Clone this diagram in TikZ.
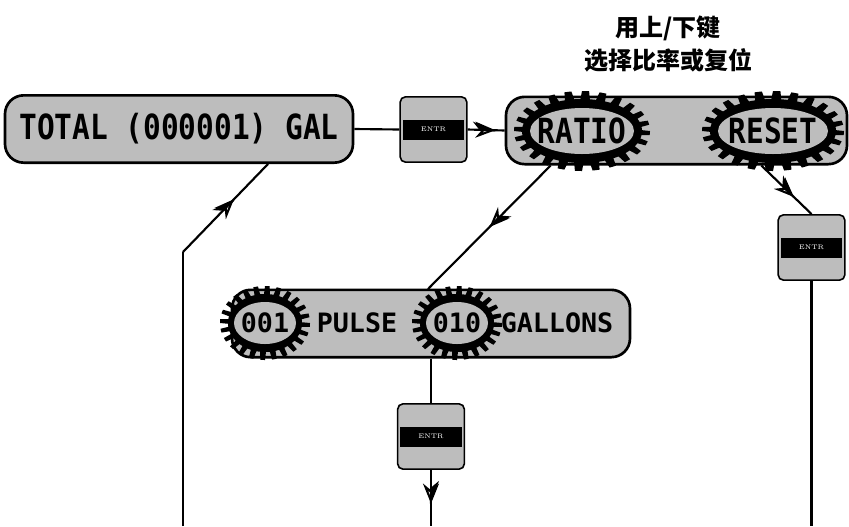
\documentclass[tikz,border=0pt]{standalone}
\usepackage{fontspec}
\usetikzlibrary{positioning,calc,arrows.meta,decorations.markings}
\newfontfamily\cjk{Noto Sans CJK SC}
\newfontfamily\lcd{DejaVu Sans Mono}[FakeStretch=0.85]
\newfontfamily\lcdsmall{DejaVu Sans Mono}
\definecolor{panelgray}{gray}{0.74}
\setlength{\fboxsep}{2pt}

% toothed ring behind a display field: centre x, centre y, body radii, inner radii
\newcommand{\gearteeth}[6]{%
  \fill[black] plot[domain=0:360, samples=241, variable=\t]
    ({#1+(#3+(mod(\t,15)<7 ? 8 : 0))*cos(\t)}, {#2+(#4+(mod(\t,15)<7 ? 8 : 0))*sin(\t)}) -- cycle;
  \fill[panelgray] (#1,#2) ellipse [x radius=#5, y radius=#6];
}
\newcommand{\entrkey}{\colorbox{black}{\parbox[c][11pt][c]{42pt}{\centering\color{white}\fontsize{5}{5}\selectfont ENTR}}}

\begin{document}
\begin{tikzpicture}[
    x=0.75pt, y=-0.75pt,
    panel/.style={
        draw,
        line width=2pt,
        fill=panelgray,
        rounded corners=14pt,
        minimum height=50.5pt,
        inner sep=0pt
    },
    entrbox/.style={
        draw,
        line width=1.2pt,
        fill=panelgray,
        rounded corners=4pt,
        minimum width=50pt,
        minimum height=49pt,
        inner sep=0pt
    },
    bigtext/.style={inner sep=0pt, font=\lcd\bfseries\fontsize{26}{26}\selectfont},
    smalltext/.style={inner sep=0pt, font=\lcdsmall\bfseries\fontsize{20}{20}\selectfont},
    wire/.style={line width=1.6pt},
    arrowat/.style={
        decoration={markings, mark=at position #1 with {
            \arrow{Stealth[open,length=15pt,width=12pt,inset=5pt]}
            \arrow{Stealth[left,length=15pt,width=12pt,inset=5pt]}}},
        postaction={decorate}
    }
]
\useasboundingbox (0,0) rectangle (849,526);

\node[font=\cjk\bfseries\fontsize{18}{25}\selectfont, align=center] (hint) at (668,44) {用上/下键\\选择比率或复位};

% display panels
\node[panel, minimum width=261pt] (total) at (179,129) {};
\node[bigtext] (totaltext) at (total) {TOTAL (000001) GAL};
\node[panel, minimum width=255.75pt] (ratiopanel) at (676.5,130.5) {};
\node[panel, minimum width=298.5pt] (pulsepanel) at (431,323.5) {};

\gearteeth{582}{131}{60}{32}{52}{23}
\gearteeth{773}{131}{63}{32}{55}{23}
\gearteeth{265}{323}{37}{29}{31}{21}
\gearteeth{457}{323}{37}{29}{31}{21}

\node[bigtext] (ratio) at (582,131) {RATIO};
\node[bigtext] (reset) at (773,131) {RESET};
\node[smalltext] (g001) at (265,323) {001};
\node[smalltext] (pulse) at (357,323) {PULSE};
\node[smalltext] (g010) at (457,323) {010};
\node[smalltext] (gallons) at (557,323) {GALLONS};

% keys
\node[entrbox] (entrA) at (433.5,129.5) {\entrkey};
\node[entrbox] (entrB) at (811.5,247.5) {\entrkey};
\node[entrbox] (entrC) at (431,436.5) {\entrkey};

\coordinate (g010top) at (428,289);
\coordinate (resetend) at (811.5,526);
\coordinate (pulseend) at (431,526);
\coordinate (backstart) at (183,526);
\coordinate (backturn) at (183,252);

\draw[wire] (total.east) -- (entrA.west);
\draw[wire, arrowat=0.75] (entrA.east) -- (ratiopanel.west);
\draw[wire, arrowat=0.5] ($(ratiopanel.south west)+(46,0)$) -- (g010top);
\draw[wire, arrowat=0.65] ($(ratiopanel.south east)+(-87,0)$) -- (entrB.north);
\draw[wire] (entrB.south) -- (resetend);
\draw[wire] (pulsepanel.south) -- (entrC.north);
\draw[wire, arrowat=0.6] (entrC.south) -- (pulseend);
\draw[wire] (backstart) -- (backturn);
\draw[wire, arrowat=0.6] (backturn) -- ($(total.south)+(89,0)$);

\end{tikzpicture}
\end{document}
